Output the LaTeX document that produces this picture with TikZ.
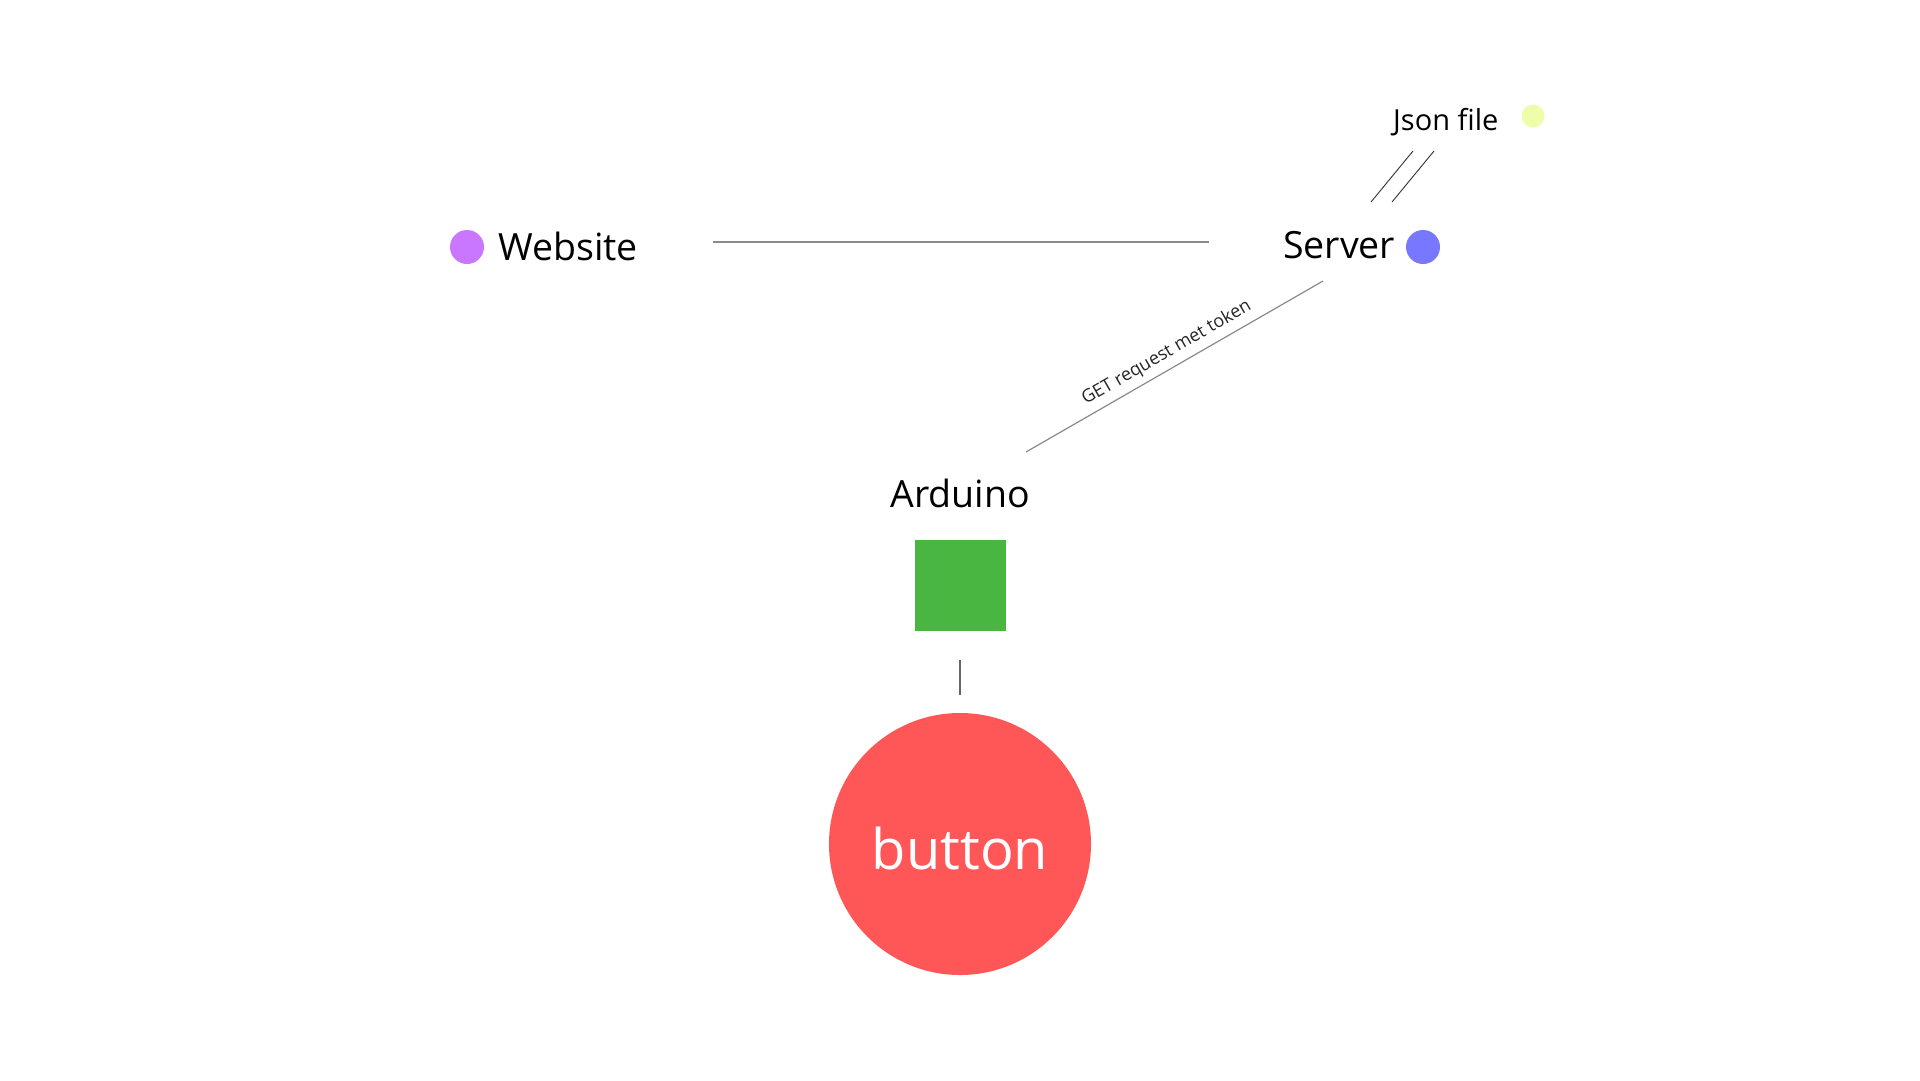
\documentclass[tikz,border=0pt]{standalone}
\usepackage{fontspec}
\setmainfont{Open Sans}
\definecolor{cweb}{HTML}{C977FF}
\definecolor{csrv}{HTML}{7777FF}
\definecolor{cjson}{HTML}{EEFDAA}
\definecolor{cgreen}{HTML}{48B641}
\definecolor{cred}{HTML}{FF5757}
\definecolor{cline}{HTML}{8A8A8A}
\begin{document}
\begin{tikzpicture}[x=1pt,y=-1pt,
  lbl/.style={inner sep=0pt, font=\fontsize{37.5}{40}\selectfont},
  dot/.style={circle, inner sep=0pt, minimum size=34pt},
  conn/.style={draw=cline, line width=1.2pt},
  thin/.style={draw=black!80, line width=0.9pt}]
\path[use as bounding box, fill=white] (0,0) rectangle (1920,1080);

% nodes
\node[dot, fill=cweb] (webdot) at (467,247) {};
\node[lbl, anchor=base west] (web) at (498,260) {Website};
\node[lbl, anchor=base west] (srv) at (1283,258) {Server};
\node[dot, fill=csrv] (srvdot) at (1423,247) {};
\node[lbl, anchor=base west, font=\fontsize{29}{31}\selectfont] (json) at (1393,130) {Json file};
\node[dot, fill=cjson, minimum size=23pt] (jsondot) at (1533,116) {};
\node[lbl, anchor=base] (ard) at (960,507) {Arduino};
\node[fill=cgreen, minimum width=91pt, minimum height=91pt, inner sep=0pt] (board) at (960.5,585.5) {};
\node[circle, fill=cred, minimum size=262pt, inner sep=0pt] (btn) at (960,844) {};
\node[inner sep=0pt, anchor=base, text=white, font=\fontsize{56}{58}\selectfont] (btntxt) at (960,869) {button};

% connector end points
\coordinate (h1) at (713,242);
\coordinate (h2) at (1209,242);
\coordinate (d1) at (1323,281);
\coordinate (d2) at (1026,452);
\coordinate (v1) at (960,660);
\coordinate (v2) at (960,695);
\coordinate (j1a) at (1413,151);
\coordinate (j1b) at (1371,202);
\coordinate (j2a) at (1434,151);
\coordinate (j2b) at (1392,202);

% connectors
\draw[conn] (h1) -- (h2);
\draw[conn] (d1) -- node[sloped, above=6pt, inner sep=0pt, text=black!85, font=\fontsize{18}{20}\selectfont] (getlbl) {GET request met token} (d2);
\draw[conn, draw=black!60] (v1) -- (v2);
\draw[thin] (j1a) -- (j1b);
\draw[thin] (j2a) -- (j2b);
\end{tikzpicture}
\end{document}
